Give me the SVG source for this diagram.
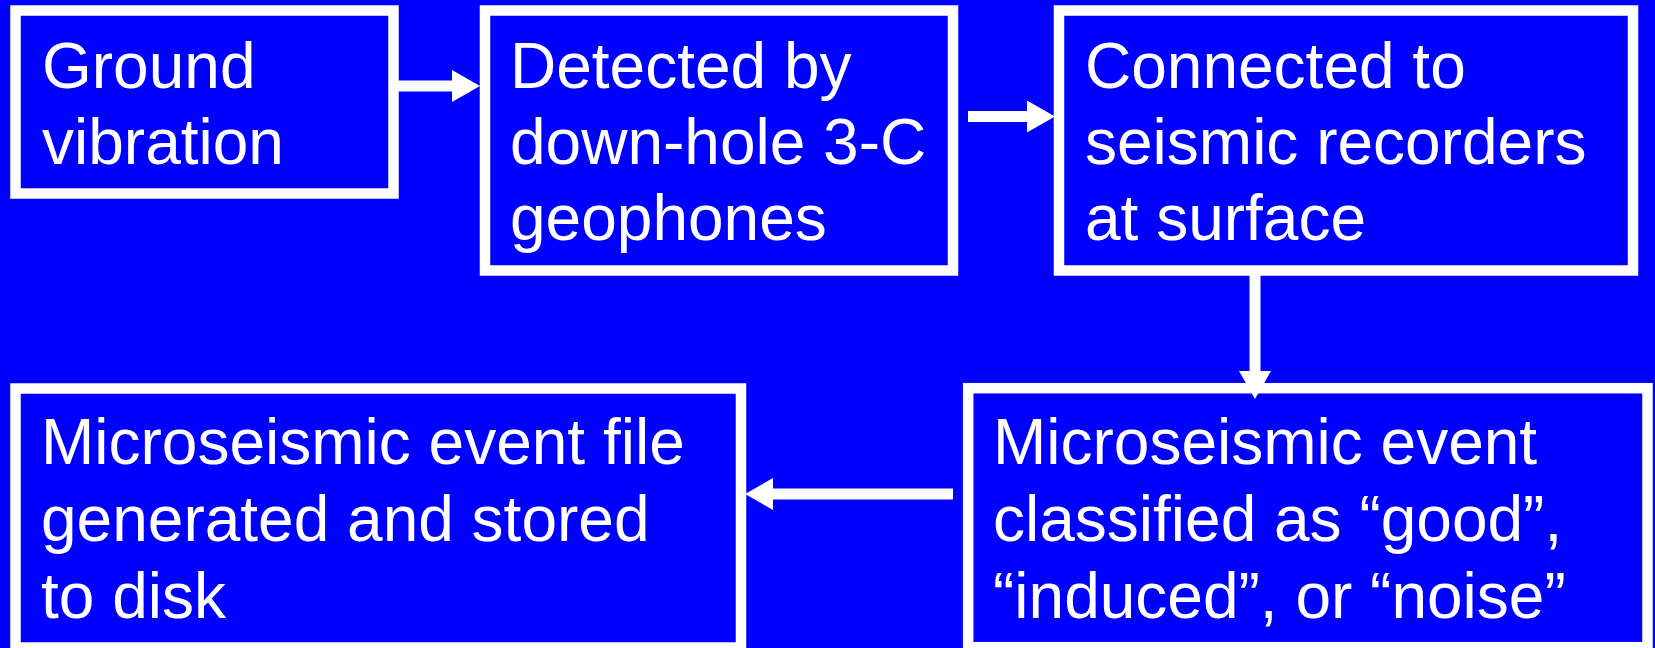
<svg xmlns="http://www.w3.org/2000/svg" width="1655" height="648" viewBox="0 0 1655 648">
<style>
.box{fill:#0000FF;stroke:#FFFFFF;stroke-width:10.5}
.lbl{font-family:"Liberation Sans",Arial,sans-serif;font-size:64px;fill:#FFFFFF}
.conn{stroke:#FFFFFF;stroke-width:11;fill:none}
</style>
<defs>
<marker id="ah" markerUnits="userSpaceOnUse" markerWidth="28" markerHeight="32" refX="0" refY="16" orient="auto" viewBox="0 0 28 32">
<path d="M0,0 L28,16 L0,32 Z" fill="#FFFFFF"/>
</marker>
</defs>
<rect x="0" y="0" width="1655" height="648" fill="#0000FF"/>
<g id="n1">
<rect class="box" x="15.5" y="10.5" width="378" height="183"/>
<text class="lbl" x="42" y="88">Ground</text>
<text class="lbl" x="42" y="164">vibration</text>
</g>
<g id="n2">
<rect class="box" x="485" y="10.5" width="468" height="260"/>
<text class="lbl" x="510" y="88">Detected by</text>
<text class="lbl" x="510" y="164">down-hole 3-C</text>
<text class="lbl" x="510" y="240">geophones</text>
</g>
<g id="n3">
<rect class="box" x="1059" y="10.5" width="574" height="260"/>
<text class="lbl" x="1085" y="88">Connected to</text>
<text class="lbl" x="1085" y="164">seismic recorders</text>
<text class="lbl" x="1085" y="240">at surface</text>
</g>
<g id="n4">
<rect class="box" x="968.2" y="388.2" width="679.3" height="259"/>
<text class="lbl" x="993" y="464">Microseismic event</text>
<text class="lbl" x="993" y="541">classified as “good”,</text>
<text class="lbl" x="993" y="618">“induced”, or “noise”</text>
</g>
<g id="n5">
<rect class="box" x="15.5" y="388.5" width="725.5" height="259"/>
<text class="lbl" x="41" y="464">Microseismic event file</text>
<text class="lbl" x="41" y="541">generated and stored</text>
<text class="lbl" x="41" y="618">to disk</text>
</g>
<g id="connectors">
<line class="conn" x1="398" y1="86" x2="452" y2="86" marker-end="url(#ah)"/>
<line class="conn" x1="968" y1="116.5" x2="1027" y2="116.5" marker-end="url(#ah)"/>
<line class="conn" x1="1255" y1="275" x2="1255" y2="371" marker-end="url(#ah)"/>
<line class="conn" x1="953" y1="494" x2="773" y2="494" marker-end="url(#ah)"/>
</g>
</svg>
